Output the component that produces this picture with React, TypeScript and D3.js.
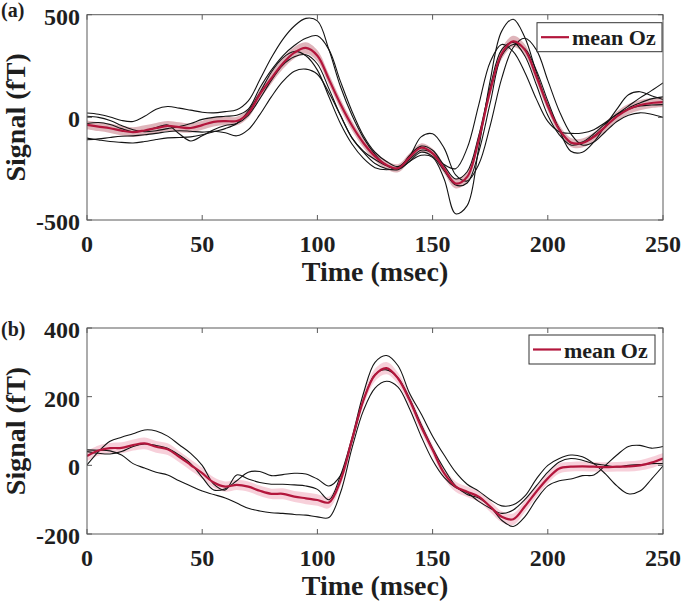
import React from 'react';
import * as d3 from 'd3';

// ---------- data ----------
const timeMs = [
  0, 5, 10, 15, 20, 25, 30, 35, 40, 45,
  50, 55, 60, 65, 70, 75, 80, 85, 90, 95,
  100, 105, 110, 115, 120, 125, 130, 135, 140, 145,
  150, 155, 160, 165, 170, 175, 180, 185, 190, 195,
  200, 205, 210, 215, 220, 225, 230, 235, 240, 245,
  250,
];

const xTicks = [0, 50, 100, 150, 200, 250];
const yTicksA = [-500, 0, 500];
const yTicksB = [-200, 0, 200, 400];
const panelLabels = ['(a)', '(b)'];
const legendLabel = 'mean Oz';
const xLabel = 'Time (msec)';
const yLabel = 'Signal (fT)';

// Panel (a)
const meanOzA = [
  -37, -45, -53, -65, -72, -64, -52, -42, -48, -52,
  -38, -22, -18, -18, 20, 112, 190, 262, 315, 338,
  300, 185, 65, -40, -125, -190, -232, -248, -195, -148,
  -175, -250, -322, -290, -110, 130, 310, 370, 330, 200,
  55, -60, -122, -125, -95, -45, 5, 40, 60, 70,
  74,
];
const semA = [
  22, 22, 23, 24, 24, 25, 25, 24, 24, 23,
  22, 22, 21, 21, 22, 24, 26, 27, 28, 28,
  27, 26, 25, 24, 23, 22, 21, 20, 20, 21,
  22, 23, 24, 25, 26, 27, 27, 27, 26, 25,
  24, 23, 22, 22, 22, 23, 24, 25, 25, 24,
  23,
];
const traceA1 = [
  21, 15, 2, -15, -20, 5, 40, 53, 45, 35,
  25, 22, 28, 37, 80, 183, 290, 380, 445, 482,
  470, 330, 150, 10, -100, -180, -235, -250, -215, -185,
  -195, -300, -470, -430, -150, 180, 420, 478, 390, 220,
  60, -55, -125, -120, -80, -30, 15, 40, 55, 60,
  62,
];
const traceA2 = [
  5, 0, -15, -40, -60, -70, -65, -55, -45, -30,
  -10, 0, 5, 10, 40, 143, 230, 300, 350, 385,
  397, 330, 175, 30, -90, -170, -215, -240, -190, -95,
  -80, -150, -280, -310, -230, -40, 190, 340, 385, 330,
  180, 30, -80, -135, -120, -70, -20, 10, 22, 15,
  0,
];
const traceA3 = [
  -101, -110, -118, -122, -125, -118, -108, -100, -98, -95,
  -85, -70, -55, -30, 30, 120, 220, 290, 321, 300,
  230, 100, -30, -130, -200, -245, -255, -245, -205, -160,
  -175, -230, -250, -150, 60, 270, 355, 320, 220, 90,
  -20, -70, -78, -76, -60, -25, 15, 55, 95, 130,
  168,
];
const traceA4 = [
  -109, -105, -98, -92, -90, -85, -78, -70, -65, -68,
  -72, -68, -75, -90, -60, 13, 100, 175, 225, 235,
  210, 120, 10, -100, -170, -225, -250, -255, -215, -170,
  -190, -260, -330, -320, -170, 70, 300, 355, 335, 230,
  80, -60, -165, -170, -120, -40, 40, 110, 125, 105,
  87,
];
const traceA5 = [
  -30, -25, -35, -55, -70, -65, -50, -37, -80, -115,
  -90, -60, -40, -30, 10, 90, 180, 255, 295, 305,
  260, 140, 10, -100, -165, -205, -235, -250, -185, -140,
  -160, -235, -300, -265, -90, 150, 330, 365, 300, 160,
  10, -85, -135, -125, -90, -45, 5, 45, 70, 90,
  100,
];

// Panel (b)
const meanOzB = [
  27, 43, 50, 51, 59, 64, 54, 47, 25, 1,
  -23, -50, -62, -57, -62, -74, -83, -83, -91, -96,
  -101, -108, -45, 74, 190, 263, 283, 253, 190, 113,
  45, -23, -62, -77, -91, -120, -150, -157, -120, -77,
  -38, -9, -4, -3, -4, -5, -4, -3, 0, 8,
  20,
];
const semB = [
  15, 15, 15, 16, 16, 17, 17, 17, 16, 16,
  16, 15, 15, 15, 15, 15, 15, 16, 16, 17,
  17, 17, 16, 16, 17, 18, 18, 17, 17, 16,
  15, 15, 15, 15, 15, 16, 16, 17, 17, 16,
  15, 15, 14, 14, 14, 14, 14, 15, 15, 16,
  16,
];
const traceB1 = [
  1, 40, 70, 82, 92, 103, 100, 85, 60, 35,
  0, -55, -72, -28, -40, -50, -55, -55, -57, -60,
  -70, -100, -30, 80, 210, 300, 320, 290, 210, 150,
  85, 30, -20, -55, -75, -100, -118, -115, -90, -40,
  0, 20, 30, 25, 5, -25, -60, -83, -75, -40,
  -2,
];
const traceB2 = [
  40, 35, 33, 40, 55, 62, 58, 50, 30, 5,
  -35, -72, -68, -45, -20, -18, -30, -27, -23, -25,
  -40, -60, -30, 70, 190, 265, 278, 255, 195, 120,
  50, -10, -60, -85, -95, -120, -160, -178, -150, -100,
  -60, -45, -40, -30, -28, 0, 30, 55, 58, 50,
  55,
];
const traceB3 = [
  45, 44, 42, 30, 5, -8, -20, -28, -45, -60,
  -75, -85, -95, -110, -125, -133, -138, -140, -143, -145,
  -150, -152, -80, 50, 160, 225, 245, 228, 165, 85,
  15, -35, -65, -80, -105, -125, -140, -130, -100, -60,
  -20, 10, 20, 15, 5, 0, -5, 0, 2, 5,
  5,
];

// ---------- drawing ----------
const FONT = "'Liberation Serif', 'Times New Roman', Times, serif";
const TEXT_COLOR = '#1e1e1e';
const AXIS_COLOR = '#5a5a5a';
const RED = '#b3163c';

type PanelProps = {
  top: number;
  bottom: number;
  yDomain: [number, number];
  yTicks: number[];
  traces: number[][];
  mean: number[];
  sem: number[];
  bandColor: string;
  label: string;
  labelBaseline: number;
  legend: { x: number; y: number; w: number; h: number };
};

function Panel(p: PanelProps) {
  const x = d3.scaleLinear().domain([0, 250]).range([87, 663]);
  const y = d3.scaleLinear().domain(p.yDomain).range([p.bottom, p.top]);
  const curve = d3.curveCatmullRom.alpha(0.5);
  const line = d3
    .line<number>()
    .x((_, i) => x(timeMs[i]))
    .y((d) => y(d))
    .curve(curve);
  const area = d3
    .area<number>()
    .x((_, i) => x(timeMs[i]))
    .y0((d, i) => y(d - p.sem[i]))
    .y1((d, i) => y(d + p.sem[i]))
    .curve(curve);
  const [x0, x1] = x.range();
  const clipId = `clip-${Math.round(p.top)}`;
  const tickLen = 5;
  const midY = (p.top + p.bottom) / 2;
  const lg = p.legend;
  return (
    <g>
      <defs>
        <clipPath id={clipId}>
          <rect x={x0} y={p.top} width={x1 - x0} height={p.bottom - p.top} />
        </clipPath>
      </defs>
      <g clipPath={`url(#${clipId})`}>
        <path d={area(p.mean) || ''} fill={p.bandColor} stroke="none" />
        {p.traces.map((t, i) => (
          <path key={i} d={line(t) || ''} fill="none" stroke="#141414" strokeWidth={1.1} />
        ))}
        <path d={line(p.mean) || ''} fill="none" stroke={RED} strokeWidth={2.2} />
      </g>
      {/* axes box */}
      <rect x={x0} y={p.top} width={x1 - x0} height={p.bottom - p.top} fill="none" stroke={AXIS_COLOR} strokeWidth={1} />
      {xTicks.map((t) => (
        <g key={'xt' + t}>
          <line x1={x(t)} x2={x(t)} y1={p.bottom} y2={p.bottom - tickLen} stroke={AXIS_COLOR} />
          <line x1={x(t)} x2={x(t)} y1={p.top} y2={p.top + tickLen} stroke={AXIS_COLOR} />
          <text x={x(t)} y={p.bottom + 32} textAnchor="middle" fontFamily={FONT} fontWeight="bold" fontSize={24} fill={TEXT_COLOR}>
            {t}
          </text>
        </g>
      ))}
      {p.yTicks.map((t) => (
        <g key={'yt' + t}>
          <line x1={x0} x2={x0 + tickLen} y1={y(t)} y2={y(t)} stroke={AXIS_COLOR} />
          <line x1={x1} x2={x1 - tickLen} y1={y(t)} y2={y(t)} stroke={AXIS_COLOR} />
          <text x={80} y={y(t) + 10} textAnchor="end" fontFamily={FONT} fontWeight="bold" fontSize={24} fill={TEXT_COLOR}>
            {t}
          </text>
        </g>
      ))}
      <text x={(x0 + x1) / 2} y={p.bottom + 61} textAnchor="middle" fontFamily={FONT} fontWeight="bold" fontSize={28} fill={TEXT_COLOR}>
        {xLabel}
      </text>
      <text
        transform={`translate(25,${midY}) rotate(-90)`}
        textAnchor="middle"
        fontFamily={FONT}
        fontWeight="bold"
        fontSize={28}
        fill={TEXT_COLOR}
      >
        {yLabel}
      </text>
      <text x={1} y={p.labelBaseline} fontFamily={FONT} fontWeight="bold" fontSize={20} fill={TEXT_COLOR}>
        {p.label}
      </text>
      {/* legend */}
      <rect x={lg.x} y={lg.y} width={lg.w} height={lg.h} fill="#ffffff" stroke="#333333" strokeWidth={1} />
      <line x1={lg.x + 4} x2={lg.x + 32} y1={lg.y + lg.h / 2} y2={lg.y + lg.h / 2} stroke={RED} strokeWidth={2.2} />
      <text x={lg.x + 35} y={lg.y + lg.h / 2 + 8} fontFamily={FONT} fontWeight="bold" fontSize={22} fill={TEXT_COLOR}>
        {legendLabel}
      </text>
    </g>
  );
}

export default function App() {
  return (
    <svg
      width={685}
      height={603}
      viewBox="0 0 685 603"
      style={{ position: 'absolute', left: 0, top: 0, background: '#ffffff' }}
    >
      <rect x={0} y={0} width={685} height={603} fill="#ffffff" />
      <Panel
        top={14.7}
        bottom={220}
        yDomain={[-500, 500]}
        yTicks={yTicksA}
        traces={[traceA1, traceA2, traceA3, traceA4, traceA5]}
        mean={meanOzA}
        sem={semA}
        bandColor="rgba(196,120,132,0.55)"
        label={panelLabels[0]}
        labelBaseline={17}
        legend={{ x: 537, y: 22.7, w: 125, h: 29 }}
      />
      <Panel
        top={328}
        bottom={534}
        yDomain={[-200, 400]}
        yTicks={yTicksB}
        traces={[traceB1, traceB2, traceB3]}
        mean={meanOzB}
        sem={semB}
        bandColor="rgba(240,170,188,0.55)"
        label={panelLabels[1]}
        labelBaseline={336}
        legend={{ x: 529, y: 335, w: 126, h: 29 }}
      />
    </svg>
  );
}
